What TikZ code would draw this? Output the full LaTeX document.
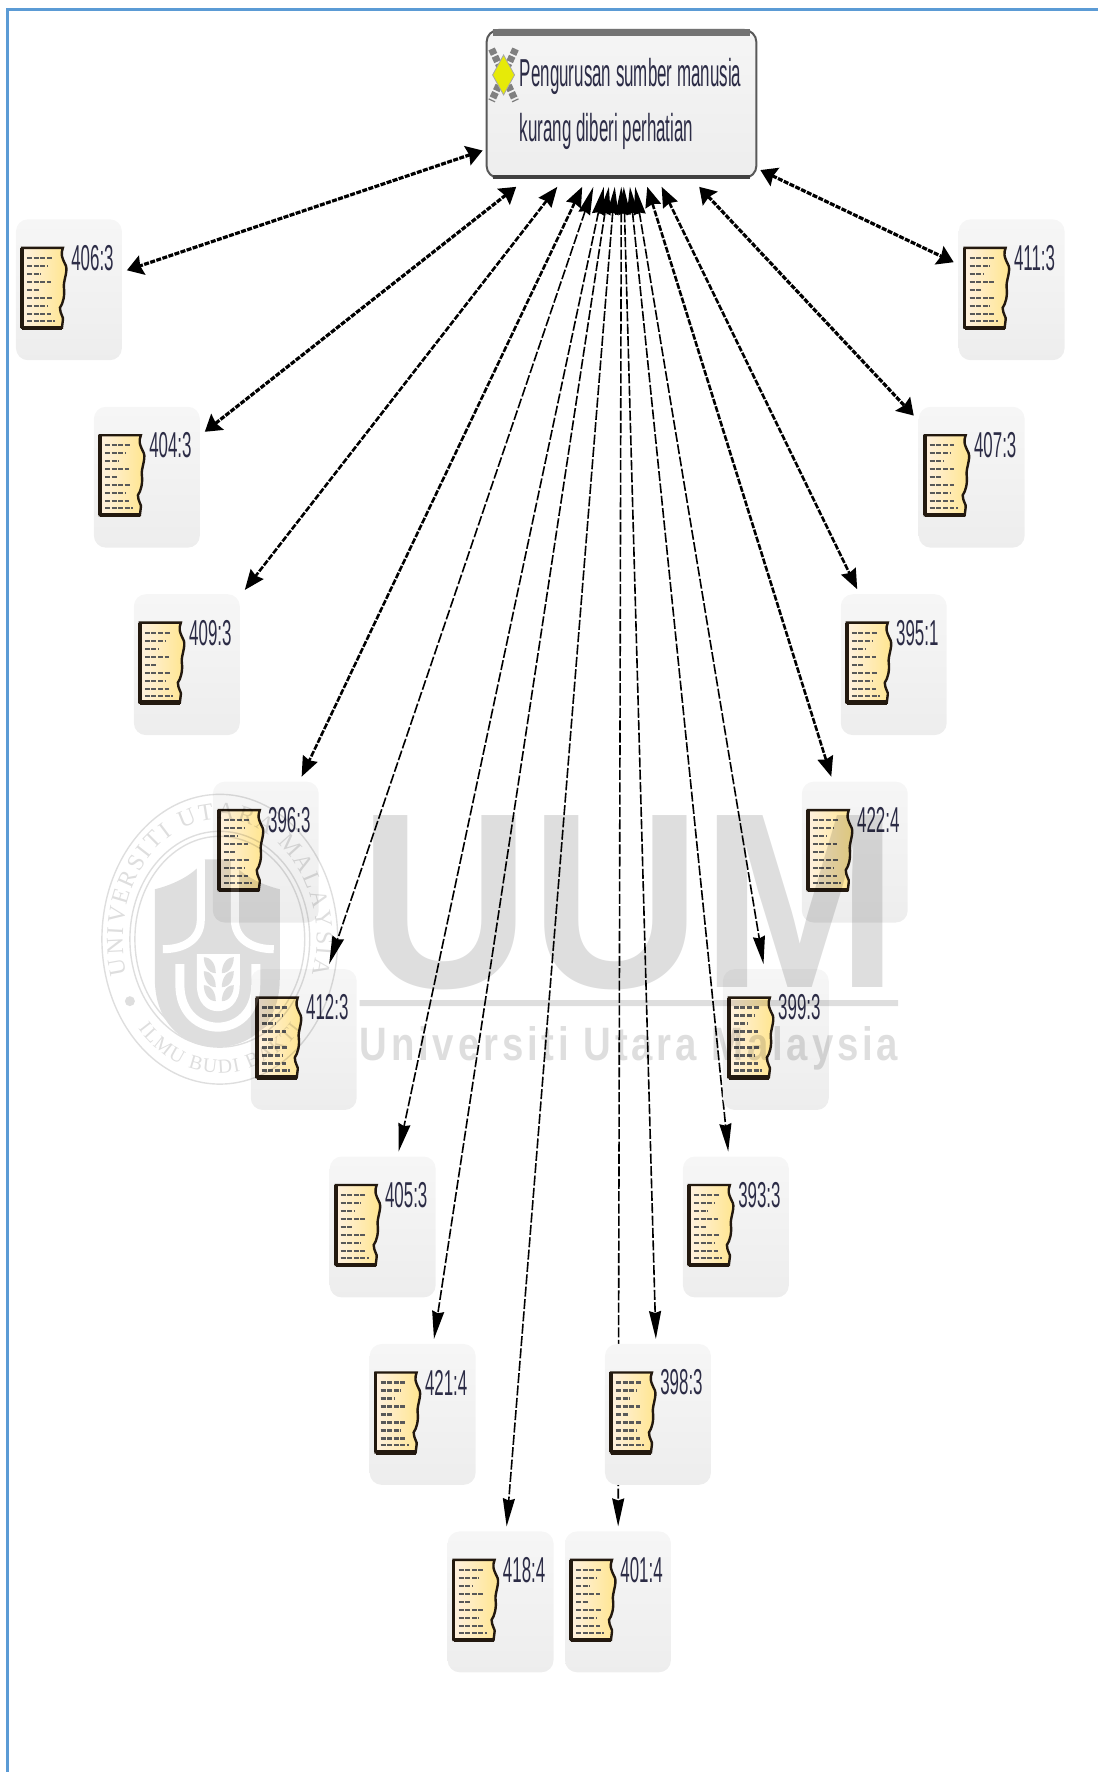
\documentclass[tikz,border=0pt]{standalone}
\usepackage{graphicx}
\usepackage{fontspec}
\setmainfont{Liberation Sans}
\newfontfamily\sealfont{Liberation Serif}
\newfontfamily\markfont[LetterSpace=10]{Liberation Sans}
\usetikzlibrary{positioning, arrows.meta, backgrounds, decorations.text}
\definecolor{uumframe}{RGB}{91,155,213}
\definecolor{uuminkb}{RGB}{44,44,70}
\definecolor{uumedge}{RGB}{35,25,15}
\newcommand{\narrowtxt}[1]{\scalebox{.47}[1]{#1}}
\newcommand{\hubtxt}[1]{\scalebox{.435}[1]{#1}}

\begin{document}
\begin{tikzpicture}[x=0.5pt, y=-0.5pt, on grid,
          card/.style={rectangle, rounded corners=6pt, top color=gray!7, bottom color=gray!14,
                       minimum width=53pt, minimum height=70.5pt, inner sep=0pt, outer sep=2.5pt},
          hub/.style={rectangle, rounded corners=6pt, draw=black!65, line width=1pt, top color=gray!8, bottom color=gray!14,
                      minimum width=135pt, minimum height=74pt, inner sep=0pt, outer xsep=2pt, outer ysep=4.5pt},
          hubtext/.style={anchor=base west, inner sep=0pt, text=uuminkb, font=\fontsize{19.5}{19.5}\selectfont},
          tag/.style={anchor=west, inner sep=0pt, text=uuminkb, font=\fontsize{18}{18}\selectfont},
          tips/.style 2 args={<->, >={Stealth[length=#1, width=#2, inset=1pt]}},
          flat/.style={tips={8pt}{10pt}, line width=1.6pt, dash pattern=on 2.5pt off .7pt},
          mid/.style={tips={10pt}{8pt}, line width=1.3pt, dash pattern=on 3pt off .8pt},
          steep/.style={tips={14pt}{6pt}, line width=.8pt, dash pattern=on 5pt off 1.2pt},
          pics/doc/.style={code={
            \draw[uumedge, line width=1.2pt, left color=yellow!8!orange!12, right color=yellow!55!orange!45]
              (-47,-42) -- (-6,-42) .. controls (-8,-36) and (-8,-34) .. (-3,-24)
              .. controls (-1,-18) and (-6,-8) .. (-5,-2) .. controls (-4,6) and (-6,14) .. (-9,18)
              .. controls (-9,24) and (-5,28) .. (-6,30) -- (-7,38) -- (-47,38) -- cycle;
            \draw[uumedge, line width=2.2pt] (-47,38) -- (-7,38);
            \draw[uumedge, line width=1.8pt] (-47,-42) -- (-47,38);
            \draw[black!65, line width=1.1pt, dash pattern=on 2.5pt off .8pt]
              (-42,-32) -- (-16,-32) (-42,-24) -- (-22,-24) (-42,-16) -- (-28,-16) (-42,-8) -- (-18,-8)
              (-42,0) -- (-30,0) (-42,8) -- (-16,8) (-42,16) -- (-22,16) (-42,24) -- (-18,24) (-42,31) -- (-14,31);
            \node[tag] (-tag) at (2,-32) {\narrowtxt{#1}};
          }}]
        \draw[uumframe, line width=1.5pt] (8,1773) -- (8,9) -- (1099,9);
        \useasboundingbox (0,0) rectangle (1099,1773);
        \node[hub] (top) at (622,104) {};
        \draw[black!55, line width=3.5pt] (493,33) -- (751,33);
        \draw[black!75, line width=2pt] (493,177) -- (751,177);
        \draw[black!50, line width=3.5pt, dash pattern=on 3pt off 1pt] (492,49) -- (516,101) (516,49) -- (492,101);
        \fill[yellow!90!green, draw=black!35] (504,55) -- (515,75) -- (504,95) -- (493,75) -- cycle;
        \node[hubtext] (topa) at (520,87) {\hubtxt{Pengurusan sumber manusia}};
        \node[hubtext] (topb) at (520,142) {\hubtxt{kurang diberi perhatian}};
        \node[card] (c406) at (69,290) {};
        \node[card, below right=93.8pt and 39pt of c406] (c404) {};
        \node[card, below right=93.8pt and 20pt of c404] (c409) {};
        \node[card, below right=93.8pt and 39.5pt of c409] (c396) {};
        \node[card, below right=93.8pt and 19pt of c396] (c412) {};
        \node[card, below right=93.8pt and 39.5pt of c412] (c405) {};
        \node[card, below right=93.8pt and 20pt of c405] (c421) {};
        \node[card, below right=93.8pt and 39pt of c421] (c418) {};
        \node[card, right=58.75pt of c418] (c401) {};
        \node[card, above right=93.8pt and 20pt of c401] (c398) {};
        \node[card, above right=93.8pt and 39pt of c398] (c393) {};
        \node[card, above right=93.8pt and 20pt of c393] (c399) {};
        \node[card, above right=93.8pt and 39.5pt of c399] (c422) {};
        \node[card, above right=93.8pt and 19.5pt of c422] (c395) {};
        \node[card, above right=93.8pt and 39pt of c395] (c407) {};
        \node[card, above right=93.8pt and 20pt of c407] (c411) {};
        \pic (d406) at (c406) {doc={406:3}}; \pic (d404) at (c404) {doc={404:3}};
        \pic (d409) at (c409) {doc={409:3}}; \pic (d396) at (c396) {doc={396:3}};
        \pic (d412) at (c412) {doc={412:3}}; \pic (d405) at (c405) {doc={405:3}};
        \pic (d421) at (c421) {doc={421:4}}; \pic (d418) at (c418) {doc={418:4}};
        \pic (d401) at (c401) {doc={401:4}}; \pic (d398) at (c398) {doc={398:3}};
        \pic (d393) at (c393) {doc={393:3}}; \pic (d399) at (c399) {doc={399:3}};
        \pic (d422) at (c422) {doc={422:4}}; \pic (d395) at (c395) {doc={395:1}};
        \pic (d407) at (c407) {doc={407:3}}; \pic (d411) at (c411) {doc={411:3}};
        \begin{pgfonlayer}{background}
          \draw[flat] (top)--(c406); \draw[flat] (top)--(c411);
          \draw[flat] (top)--(c404); \draw[flat] (top)--(c407);
          \draw[mid] (top)--(c409); \draw[mid] (top)--(c395);
          \draw[mid] (top)--(c396); \draw[mid] (top)--(c422);
          \draw[steep] (top)--(c412); \draw[steep] (top)--(c399);
          \draw[steep] (top)--(c405); \draw[steep] (top)--(c393);
          \draw[steep] (top)--(c421); \draw[steep] (top)--(c398);
          \draw[steep] (top)--(c418); \draw[steep] (top)--(c401);
        \end{pgfonlayer}
        \begin{scope}[transparency group, opacity=.13]
          \coordinate (seal) at (220,940);
          \draw[line width=.7pt] (seal) ellipse[x radius=59pt, y radius=72.5pt];
          \draw[line width=.7pt] (seal) ellipse[x radius=45pt, y radius=54pt];
          \draw[line width=.7pt] (seal) ellipse[x radius=42.5pt, y radius=51.5pt];
          \fill (155,890) .. controls (175,885) and (195,875) .. (205,860) -- (230,860)
            .. controls (240,875) and (260,885) .. (280,890) -- (280,980)
            .. controls (280,1025) and (250,1048) .. (217,1048) .. controls (185,1048) and (155,1025) .. (155,980) -- cycle;
          \draw[white, line width=4pt] (201,860) -- (201,920) .. controls (201,940) and (185,950) .. (163,950);
          \draw[white, line width=4pt] (235,860) -- (235,920) .. controls (235,940) and (252,950) .. (274,950);
          \draw[white, line width=4.5pt] (180,965) -- (180,985) .. controls (180,1015) and (200,1028) .. (218,1028)
            .. controls (236,1028) and (256,1015) .. (256,985) -- (256,965);
          \fill[white] (197,955) -- (240,955) -- (240,985) .. controls (240,1005) and (228,1012) .. (218,1012)
            .. controls (208,1012) and (197,1005) .. (197,985) -- cycle;
          \foreach \ly in {0,14,28} {
            \fill (204,958+\ly) .. controls (212,958+\ly) and (216,966+\ly) .. (216,974+\ly) .. controls (208,974+\ly) and (204,966+\ly) .. cycle;
            \fill (234,958+\ly) .. controls (226,958+\ly) and (222,966+\ly) .. (222,974+\ly) .. controls (230,974+\ly) and (234,966+\ly) .. cycle;
          }
          \fill (130,1002) circle (2.5pt);
          \path[decorate, decoration={text along path, text align={fit to path},
              text={|\sealfont\fontsize{12}{12}\selectfont|UNIVERSITI UTARA MALAYSIA}}]
            ([shift={(197:48.5pt and 60pt)}]seal) arc[start angle=197, end angle=-17, x radius=48.5pt, y radius=60pt];
          \path[decorate, decoration={text along path, text align={fit to path},
              text={|\sealfont\fontsize{10}{10}\selectfont|ILMU BUDI BAKTI}}]
            ([shift={(222:55pt and 67pt)}]seal) arc[start angle=222, end angle=318, x radius=55pt, y radius=67pt];
          \node[inner sep=0pt] (uum) at (629.5,903) {\resizebox{269.5pt}{86pt}{\bfseries UUM}};
          \fill (360,1001) rectangle (899,1007);
          \node[inner sep=0pt] (uumname) at (629.5,1049) {\resizebox{269.5pt}{17pt}{\markfont\bfseries Universiti Utara Malaysia}};
        \end{scope}
      \end{tikzpicture}
\end{document}
